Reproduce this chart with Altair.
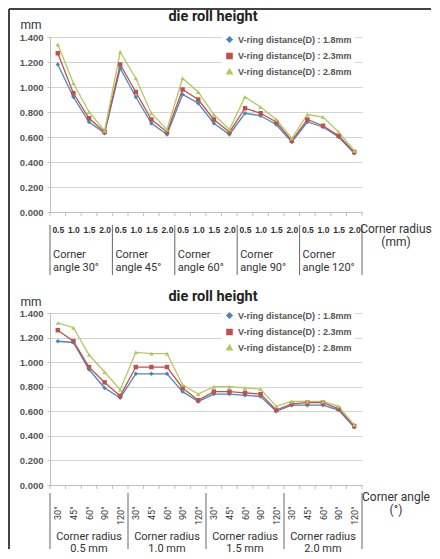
import json
import altair as alt
import pandas as pd

# ---------------- data ----------------
series_names = [
    "V-ring distance(D) : 1.8mm",
    "V-ring distance(D) : 2.3mm",
    "V-ring distance(D) : 2.8mm",
]
series_colors = ["#4a86b8", "#c0504d", "#b3c95c"]
series_shapes = ["diamond", "square", "triangle-up"]

chart_title = "die roll height"
unit_label = "mm"
y_ticks = [0.0, 0.2, 0.4, 0.6, 0.8, 1.0, 1.2, 1.4]

# top chart: corner angle groups, corner radius inside
top_groups = ["Corner\nangle 30°", "Corner\nangle 45°", "Corner\nangle 60°",
              "Corner\nangle 90°", "Corner\nangle 120°"]
top_sub = ["0.5", "1.0", "1.5", "2.0"]
top_d18 = [1.18, 0.92, 0.72, 0.63, 1.15, 0.92, 0.71, 0.62, 0.94, 0.87, 0.71, 0.62,
           0.79, 0.77, 0.70, 0.56, 0.72, 0.68, 0.60, 0.47]
top_d23 = [1.27, 0.95, 0.75, 0.64, 1.18, 0.96, 0.74, 0.64, 0.98, 0.90, 0.74, 0.64,
           0.83, 0.79, 0.72, 0.57, 0.74, 0.69, 0.61, 0.48]
top_d28 = [1.34, 1.03, 0.80, 0.65, 1.28, 1.07, 0.79, 0.66, 1.07, 0.96, 0.78, 0.66,
           0.92, 0.84, 0.74, 0.59, 0.78, 0.76, 0.64, 0.49]
top_axis_title = "Corner radius\n(mm)"

# bottom chart: corner radius groups, corner angle inside
bot_groups = ["Corner radius\n0.5 mm", "Corner radius\n1.0 mm",
              "Corner radius\n1.5 mm", "Corner radius\n2.0 mm"]
bot_sub = ["30°", "45°", "60°", "90°", "120°"]
bot_d18 = [1.17, 1.16, 0.94, 0.79, 0.71, 0.905, 0.905, 0.905, 0.76, 0.68,
           0.74, 0.74, 0.73, 0.72, 0.60, 0.65, 0.65, 0.65, 0.61, 0.47]
bot_d23 = [1.26, 1.17, 0.96, 0.835, 0.725, 0.96, 0.96, 0.96, 0.79, 0.69,
           0.76, 0.76, 0.75, 0.74, 0.61, 0.66, 0.67, 0.67, 0.62, 0.48]
bot_d28 = [1.32, 1.28, 1.06, 0.92, 0.775, 1.08, 1.07, 1.07, 0.815, 0.74,
           0.80, 0.80, 0.79, 0.78, 0.64, 0.68, 0.68, 0.68, 0.64, 0.49]
bot_axis_title = "Corner angle\n(°)"

FONT = "Roboto, sans-serif"
LFONT = "Liberation Sans, Arial, sans-serif"
W = 312
GRID = "#d4d4d4"
AXC = "#bfbfbf"


def one(**kw):
    return pd.DataFrame([kw])


def panel(values, sub, groups, H, centered, axis_title, rotated, sep_top, sep_bot,
          frame_top, frame_bot, title_y, mm_y, grp_y, grp_lh, grp_fs, ttl_y, legend_y,
          top_frame):
    n_sub = len(sub)
    N = len(values[0])
    rows = []
    for s, vals in enumerate(values):
        for i, v in enumerate(vals):
            rows.append({"idx": i, "value": v, "series": series_names[s]})
    df = pd.DataFrame(rows)

    xscale = alt.Scale(domain=[-0.5, N - 0.5], nice=False, zero=False)
    label_expr = f"{json.dumps(sub, ensure_ascii=False)}[datum.value % {n_sub}]"
    if rotated:
        xaxis = alt.Axis(values=list(range(N)), labelExpr=label_expr, ticks=False, grid=False,
                         domainColor=AXC, title=None, labelAngle=270, labelAlign="right",
                         labelBaseline="middle", labelPadding=21, labelFont=FONT,
                         labelFontSize=9, labelColor="#333", labelOverlap=False,
                         labelFlush=False)
    else:
        xaxis = alt.Axis(values=list(range(N)), labelExpr=label_expr, ticks=False, grid=False,
                         domainColor=AXC, title=None, labelPadding=13, labelFont=LFONT,
                         labelFontSize=8.5, labelFontWeight="bold", labelColor="#333",
                         labelOverlap=False, labelFlush=False)
    yaxis = alt.Axis(values=y_ticks, format=".3f", title=None, gridColor=GRID, domainColor=AXC,
                     tickColor=AXC, tickSize=3, labelPadding=4, labelFont=LFONT,
                     labelFontSize=9.5, labelFontWeight="bold", labelColor="#555",
                     labelOverlap=False)
    yscale = alt.Scale(domain=[0, 1.4], nice=False)

    def X(field):
        return alt.X(field, scale=xscale, axis=xaxis, title=None)

    Y = alt.Y("value:Q", scale=yscale, axis=yaxis, title=None)

    leg = alt.Legend(orient="none", legendX=172, legendY=legend_y, title=None,
                     fillColor="white", padding=3, rowPadding=3.5,
                     labelFont=LFONT, labelFontSize=9, labelFontWeight="bold",
                     labelColor="#555", symbolSize=26, labelLimit=300)
    color = alt.Color("series:N", scale=alt.Scale(domain=series_names, range=series_colors),
                      legend=leg)
    shape = alt.Shape("series:N", scale=alt.Scale(domain=series_names, range=series_shapes),
                      legend=leg)

    base = alt.Chart(df)
    lines = base.mark_line(strokeWidth=1.3).encode(
        x=X("idx:Q"), y=Y, color=color, detail="series:N")
    pts = base.mark_point(filled=True, size=20, opacity=1).encode(
        x=X("idx:Q"), y=Y, color=color, shape=shape)

    bnd = pd.DataFrame({"pos": [i - 0.5 for i in range(N + 1)]})
    ticks = alt.Chart(bnd).mark_rule(color=AXC).encode(
        x=X("pos:Q"), y=alt.value(H), y2=alt.value(H + 4))
    gb = pd.DataFrame({"pos": [g * n_sub - 0.5 for g in range(len(groups) + 1)]})
    seps = alt.Chart(gb).mark_rule(color="#666", strokeWidth=1).encode(
        x=X("pos:Q"), y=alt.value(sep_top), y2=alt.value(sep_bot))

    if centered:
        gl = pd.DataFrame({"pos": [g * n_sub + (n_sub - 1) / 2 for g in range(len(groups))],
                           "label": groups})
        glab = alt.Chart(gl).mark_text(align="center", baseline="top", lineBreak="\n",
                                       lineHeight=grp_lh, font=FONT, fontSize=grp_fs,
                                       color="#333").encode(
            x=X("pos:Q"), y=alt.value(grp_y), text="label:N")
    else:
        gl = pd.DataFrame({"pos": [g * n_sub - 0.5 for g in range(len(groups))], "label": groups})
        glab = alt.Chart(gl).mark_text(align="left", baseline="top", lineBreak="\n", dx=3,
                                       lineHeight=grp_lh, font=FONT, fontSize=grp_fs,
                                       color="#333").encode(
            x=X("pos:Q"), y=alt.value(grp_y), text="label:N")

    ttl = alt.Chart(one(t=chart_title)).mark_text(font=FONT, fontSize=14.5, fontWeight="bold",
                                                  color="#222", baseline="middle").encode(
        x=alt.value(163), y=alt.value(title_y), text="t:N")
    mm = alt.Chart(one(t=unit_label)).mark_text(font=FONT, fontSize=12, color="#333",
                                                baseline="middle").encode(
        x=alt.value(-19), y=alt.value(mm_y), text="t:N")
    xt = alt.Chart(one(t=axis_title)).mark_text(font=FONT, fontSize=12, color="#333",
                                                baseline="top", lineBreak="\n",
                                                lineHeight=13).encode(
        x=alt.value(346), y=alt.value(ttl_y), text="t:N")

    frame_v = alt.Chart(one(k=0)).mark_rule(color="#444", strokeWidth=2).encode(
        x=alt.value(-41), y=alt.value(frame_top), y2=alt.value(frame_bot))
    layers = [lines, pts, ticks, seps, glab, ttl, mm, xt, frame_v]
    if top_frame:
        frame_h = alt.Chart(one(k=0)).mark_rule(color="#444", strokeWidth=2).encode(
            x=alt.value(-41), x2=alt.value(381), y=alt.value(frame_top))
        layers.append(frame_h)
    return alt.layer(*layers).properties(width=W, height=H)


top = panel([top_d18, top_d23, top_d28], top_sub, top_groups, H=175, centered=False,
            axis_title=top_axis_title, rotated=False, sep_top=188, sep_bot=238,
            frame_top=-28, frame_bot=238, title_y=-20, mm_y=-12, grp_y=212, grp_lh=12.5,
            grp_fs=11, ttl_y=187, legend_y=-5, top_frame=True)
bottom = panel([bot_d18, bot_d23, bot_d28], bot_sub, bot_groups, H=172, centered=True,
               axis_title=bot_axis_title, rotated=True, sep_top=180, sep_bot=236,
               frame_top=-40, frame_bot=236, title_y=-16, mm_y=-11, grp_y=218, grp_lh=12,
               grp_fs=11, ttl_y=179, legend_y=-5, top_frame=False)

chart = alt.vconcat(top, bottom, spacing=-4).resolve_scale(
    x="independent", y="independent", color="independent", shape="independent"
).resolve_legend(color="independent", shape="independent").properties(
    padding=0, background="white"
).configure_view(stroke=None)

chart.save("out.html", embed_options={"renderer": "svg", "actions": False})
